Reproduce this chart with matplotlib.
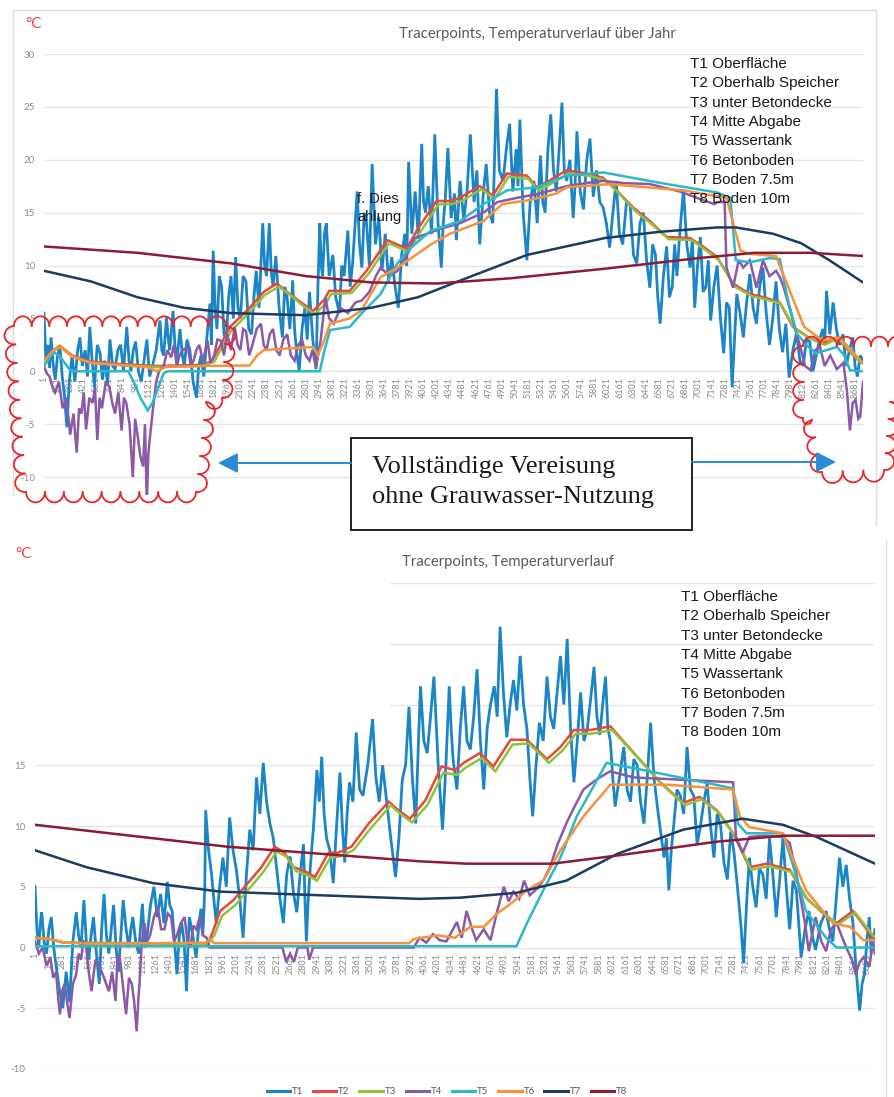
import numpy as np
import matplotlib
matplotlib.use('Agg')
from matplotlib import pyplot as plt
from matplotlib.patches import Rectangle
from matplotlib.lines import Line2D

# hours of the year (x) and temperatures in degC (y)
names = ['T1', 'T2', 'T3', 'T4', 'T5', 'T6', 'T7', 'T8']
legend_labels = ['T1 Oberfläche', 'T2 Oberhalb Speicher', 'T3 unter Betondecke',
                 'T4 Mitte Abgabe', 'T5 Wassertank', 'T6 Betonboden',
                 'T7 Boden 7.5m', 'T8 Boden 10m']
tick_hours = list(range(0, 8760, 140))
tick_labels = [str(h + 1) for h in tick_hours]

# ---- upper chart: "über Jahr" (with full icing)
top_t1_h = [0, 20, 40, 60, 75, 100, 120, 145, 170, 195, 220, 245, 270, 300, 330, 360, 385, 410, 440,
            465, 490, 515, 540, 570, 600, 625, 650, 680, 705, 735, 760, 790, 820, 850, 885, 910, 930,
            955, 980, 1010, 1040, 1070, 1100, 1130, 1160, 1200, 1240, 1260, 1280, 1310, 1330, 1345,
            1380, 1400, 1420, 1455, 1480, 1500, 1530, 1560, 1595, 1630, 1655, 1680, 1710, 1740, 1775,
            1790, 1810, 1830, 1850, 1875, 1900, 1925, 1950, 1975, 2000, 2025, 2050, 2075, 2100, 2130,
            2160, 2190, 2220, 2245, 2270, 2300, 2340, 2360, 2380, 2410, 2430, 2450, 2480, 2515, 2550,
            2575, 2600, 2630, 2660, 2680, 2700, 2730, 2760, 2790, 2815, 2840, 2875, 2910, 2930, 2950,
            2965, 2980, 3000, 3020, 3050, 3090, 3120, 3160, 3185, 3210, 3250, 3275, 3300, 3350, 3375,
            3400, 3425, 3450, 3480, 3510, 3545, 3580, 3615, 3650, 3685, 3720, 3755, 3790, 3825, 3860,
            3880, 3900, 3935, 3970, 4005, 4040, 4060, 4080, 4110, 4145, 4180, 4215, 4250, 4270, 4290,
            4320, 4355, 4390, 4410, 4450, 4490, 4525, 4560, 4600, 4630, 4660, 4700, 4730, 4765, 4800,
            4840, 4870, 4910, 4945, 4980, 5015, 5050, 5070, 5090, 5125, 5165, 5200, 5240, 5275, 5310,
            5335, 5360, 5390, 5420, 5450, 5480, 5510, 5540, 5565, 5590, 5625, 5660, 5680, 5700, 5735,
            5770, 5805, 5840, 5875, 5910, 5945, 5980, 6015, 6050, 6085, 6120, 6155, 6190, 6230, 6270,
            6305, 6340, 6375, 6410, 6445, 6480, 6510, 6540, 6565, 6590, 6625, 6660, 6690, 6720, 6745,
            6770, 6800, 6840, 6875, 6910, 6935, 6960, 6990, 7020, 7050, 7080, 7105, 7130, 7165, 7200,
            7235, 7270, 7300, 7330, 7360, 7385, 7410, 7445, 7480, 7515, 7550, 7585, 7620, 7655, 7690,
            7725, 7760, 7795, 7830, 7865, 7900, 7935, 7970, 8010, 8050, 8085, 8120, 8155, 8190, 8225,
            8260, 8295, 8330, 8350, 8370, 8405, 8440, 8475, 8510, 8545, 8580, 8615, 8650, 8675, 8700,
            8730, 8760]
top_t1 = [5.5, 1.0, 2.5, 0.3, 3.2, 0.5, -0.8, 1.5, 2.3, -0.5, -2.4, -5.3, -1.0, 1.5, -1.0, 2.0, 3.2,
          0.5, 2.0, -0.5, 4.2, 1.0, -1.5, 2.5, 1.7, -0.8, 1.0, -1.2, 3.0, 0.5, 0.2, 2.0, 2.5, 0.0,
          4.2, 1.0, 0.0, 2.0, 2.8, 0.0, -1.0, 1.0, 3.0, -0.5, 0.5, 2.0, 4.8, 2.0, 1.5, 5.1, 3.0, 2.0,
          5.7, 2.5, 1.0, 4.0, 1.5, 0.5, 3.0, 2.0, -1.0, -2.5, 0.5, 1.5, -0.5, 3.0, 6.4, 2.5, 11.4,
          6.0, 4.0, 9.0, 8.0, 3.5, 3.0, 7.0, 9.0, 5.0, 10.8, 6.0, 5.0, 9.0, 8.5, 4.0, 3.5, 7.0, 9.5,
          6.0, 14.0, 10.0, 9.0, 14.0, 9.5, 8.0, 10.9, 6.0, 3.2, 8.0, 7.0, 4.0, 8.6, 4.0, 2.0, 0.0,
          4.0, 6.0, 3.0, 7.5, 3.0, 0.2, 8.0, 14.0, 10.0, 9.0, 13.0, 14.0, 9.0, 11.0, 7.0, 5.5, 10.0,
          9.0, 13.3, 8.0, 10.1, 17.0, 12.0, 9.8, 15.0, 14.0, 10.0, 19.6, 12.0, 14.6, 9.5, 13.0, 8.5,
          10.8, 8.0, 6.0, 11.0, 13.0, 10.0, 19.8, 13.0, 17.0, 12.5, 21.5, 16.0, 15.0, 17.5, 13.0,
          22.4, 14.0, 9.8, 14.0, 16.0, 21.1, 14.5, 16.8, 12.4, 18.0, 14.3, 17.0, 22.4, 16.0, 19.0,
          12.0, 17.0, 19.6, 15.0, 14.0, 26.7, 19.0, 18.0, 21.0, 23.4, 17.0, 21.0, 17.5, 23.8, 15.0,
          10.5, 16.0, 18.0, 14.0, 20.4, 16.0, 15.0, 21.0, 24.3, 19.0, 17.0, 21.0, 25.4, 19.0, 18.0,
          20.0, 14.5, 17.5, 22.7, 17.0, 15.3, 20.0, 22.0, 16.5, 19.0, 16.0, 15.5, 14.0, 11.7, 15.0,
          18.0, 13.0, 12.0, 16.0, 15.7, 11.0, 10.2, 14.0, 15.0, 10.5, 7.9, 12.0, 11.0, 7.0, 4.5, 9.0,
          11.8, 7.0, 8.0, 12.0, 9.0, 13.0, 17.2, 12.0, 9.8, 12.5, 6.0, 10.0, 12.7, 7.5, 8.0, 10.5,
          4.8, 8.0, 10.0, 5.0, 1.7, 6.5, 6.0, -1.5, 3.0, 7.3, 5.5, 3.2, 6.5, 9.2, 6.0, 4.5, 8.0, 9.8,
          5.5, 2.5, 5.0, 8.5, 4.0, 1.8, 4.5, -0.6, 2.0, 3.6, 1.0, 0.5, 3.0, 2.8, 0.0, 1.5, 3.0, 4.0,
          2.5, 7.6, 3.5, 6.5, 4.0, 2.5, 3.5, 0.5, 2.0, 3.2, 0.5, -0.5, 1.5, 1.0]
top_t2_h = [0, 100, 170, 300, 500, 800, 1200, 1700, 1800, 1990, 2200, 2350, 2490, 2600, 2750, 2880,
            3000, 3050, 3270, 3450, 3670, 3880, 4000, 4200, 4340, 4450, 4560, 4660, 4800, 4950, 5165,
            5270, 5400, 5590, 5800, 5980, 6125, 6300, 6480, 6660, 6910, 7050, 7200, 7370, 7550, 7700,
            7870, 8010, 8180, 8330, 8480, 8600, 8730]
top_t2 = [1.0, 2.0, 2.4, 1.5, 0.9, 0.7, 0.5, 0.6, 1.0, 4.2, 6.0, 7.5, 8.3, 7.5, 6.5, 5.7, 6.8, 7.6,
          7.6, 9.5, 12.4, 11.6, 13.5, 16.1, 16.1, 16.4, 17.0, 17.5, 16.6, 18.7, 18.5, 17.4, 18.0,
          19.0, 18.7, 18.3, 17.1, 15.5, 14.2, 12.7, 12.6, 11.8, 10.8, 8.3, 7.3, 7.0, 6.5, 4.2, 3.2,
          2.6, 3.2, 2.0, 0.85]
top_t3_h = [0, 100, 180, 300, 500, 800, 1200, 1700, 1820, 2000, 2200, 2360, 2510, 2620, 2770, 2900,
            3020, 3070, 3290, 3470, 3690, 3900, 4020, 4220, 4360, 4470, 4580, 4680, 4820, 4970, 5180,
            5290, 5420, 5610, 5820, 6000, 6140, 6320, 6500, 6680, 6930, 7070, 7220, 7390, 7570, 7720,
            7880, 8030, 8200, 8350, 8500, 8620, 8740]
top_t3 = [0.9, 1.9, 2.3, 1.4, 0.8, 0.6, 0.4, 0.5, 0.9, 3.8, 5.6, 7.2, 8.0, 7.3, 6.2, 5.4, 6.5, 7.3,
          7.4, 9.2, 12.1, 11.3, 13.1, 15.8, 15.8, 16.1, 16.7, 17.2, 16.3, 18.4, 18.2, 17.1, 17.7,
          18.7, 18.5, 18.1, 16.9, 15.2, 13.9, 12.5, 12.4, 11.5, 10.5, 8.0, 7.1, 6.8, 6.4, 4.0, 3.1,
          2.5, 3.1, 1.9, 0.8]
top_t4_h = [0, 30, 60, 90, 120, 160, 200, 240, 280, 315, 350, 375, 400, 425, 450, 485, 520, 545, 570,
            595, 620, 660, 700, 730, 760, 795, 830, 855, 880, 915, 950, 975, 1000, 1030, 1060, 1080,
            1100, 1115, 1130, 1160, 1200, 1230, 1280, 1320, 1360, 1390, 1420, 1450, 1480, 1540, 1570,
            1600, 1630, 1660, 1700, 1750, 1780, 1820, 1855, 1890, 1925, 1960, 2000, 2040, 2070, 2100,
            2130, 2160, 2195, 2230, 2275, 2320, 2350, 2380, 2415, 2450, 2485, 2520, 2560, 2600, 2640,
            2680, 2720, 2760, 2800, 2840, 2870, 2910, 2960, 3010, 3050, 3100, 3170, 3250, 3330, 3400,
            3480, 3550, 3600, 3700, 3780, 3880, 3960, 4100, 4250, 4450, 4700, 4850, 5060, 5300, 5590,
            5800, 5980, 6200, 6480, 6800, 7170, 7200, 7280, 7300, 7370, 7430, 7480, 7550, 7620, 7690,
            7760, 7830, 7870, 7910, 7990, 8050, 8090, 8140, 8200, 8250, 8300, 8350, 8410, 8480, 8550,
            8590, 8620, 8650, 8680, 8710, 8730, 8760]
top_t4 = [0.5, -0.2, -0.5, -1.5, -2.0, -1.0, -3.5, -2.5, -6.0, -4.0, -7.7, -3.5, -4.0, -2.0, -5.5,
          -2.5, -3.0, -1.5, -6.5, -2.5, -3.5, -1.0, -1.5, -3.0, -4.0, -2.0, -5.6, -2.5, -3.0, -5.0,
          -10.0, -4.5, -6.0, -8.0, -9.0, -5.0, -12.5, -8.0, -6.5, -4.0, -1.0, 0.0, 0.5, 2.0, 1.3, 2.5,
          0.5, 1.5, 2.0, 2.3, 0.5, 1.0, 2.0, 2.5, 1.0, 2.9, 0.8, 1.5, 3.0, 2.9, 1.5, 3.5, 2.0, 4.2,
          2.5, 2.0, 4.0, 3.8, 1.5, 2.5, 4.0, 4.5, 2.5, 2.0, 3.5, 4.0, 2.0, 1.5, 3.0, 3.5, 1.5, 1.0,
          2.5, 3.0, 1.5, 1.0, 2.0, 0.4, 3.0, 7.0, 5.0, 4.5, 6.0, 5.5, 6.5, 6.7, 7.5, 9.0, 9.8, 9.0,
          9.5, 11.0, 12.6, 13.0, 13.5, 14.0, 15.0, 16.0, 16.4, 16.8, 17.5, 17.8, 18.0, 17.8, 17.7,
          17.0, 15.8, 16.0, 16.0, 9.8, 7.9, 10.5, 9.8, 10.5, 7.9, 10.5, 9.0, 9.5, 8.9, 8.0, 5.5, 3.5,
          2.3, 0.5, 0.1, 2.0, 2.3, 0.5, 1.5, 0.2, 0.8, -2.0, -5.6, -3.0, -2.7, -4.5, -4.3, -1.0]
top_t5_h = [0, 100, 160, 280, 350, 900, 960, 1030, 1110, 1160, 1210, 1280, 1320, 2950, 3000, 3060,
            3270, 3400, 3600, 3780, 3900, 4140, 4450, 4700, 4950, 5270, 5590, 5980, 6600, 7200, 7340,
            7400, 7550, 7760, 7870, 7950, 8050, 8150, 8260, 8370, 8480, 8560, 8620, 8760]
top_t5 = [0.5, 1.8, 1.5, 0.1, 0.0, 0.0, -1.0, -2.5, -3.7, -3.0, -1.8, -0.2, 0.0, 0.0, 2.0, 3.9, 4.2,
          5.5, 7.3, 10.2, 11.5, 13.3, 14.2, 15.8, 17.1, 17.4, 18.5, 18.8, 17.8, 16.9, 16.4, 10.5,
          10.3, 10.7, 10.6, 7.0, 3.6, 2.5, 1.7, 2.0, 2.3, 1.5, 0.1, 0.0]
top_t6_h = [0, 100, 170, 300, 500, 800, 1100, 1210, 1300, 1700, 2200, 2280, 2350, 2500, 2700, 2880,
            2930, 3000, 3060, 3270, 3400, 3600, 3780, 4140, 4340, 4700, 4900, 5200, 5480, 5590, 6050,
            6840, 7300, 7450, 7550, 7830, 7990, 8130, 8330, 8510, 8760]
top_t6 = [1.0, 2.0, 2.3, 1.4, 0.8, 0.6, 0.4, 0.0, 0.4, 0.5, 0.55, 1.5, 2.0, 2.1, 2.2, 2.3, 1.5, 3.0,
          4.5, 5.0, 5.8, 8.9, 9.8, 12.0, 13.0, 14.2, 15.8, 16.2, 16.8, 17.4, 17.7, 17.1, 16.4, 11.4,
          11.1, 10.9, 7.3, 4.2, 2.9, 3.2, 0.75]
top_t7_h = [0, 500, 1000, 1500, 2000, 2800, 3500, 4000, 4400, 5165, 6000, 6600, 7200, 7400, 7800,
            8100, 8400, 8760]
top_t7 = [9.5, 8.5, 7.0, 6.0, 5.5, 5.3, 6.0, 7.0, 8.4, 11.0, 12.6, 13.2, 13.6, 13.6, 13.0, 12.1,
          10.5, 8.4]
top_t8_h = [0, 1000, 2000, 2800, 3500, 4200, 5000, 6000, 7000, 7600, 8200, 8760]
top_t8 = [11.8, 11.2, 10.2, 9.0, 8.4, 8.3, 8.8, 9.7, 10.7, 11.2, 11.2, 10.9]

# ---- lower chart: with grey water use
bot_t1_h = [0, 20, 40, 55, 70, 95, 120, 145, 170, 195, 220, 255, 290, 325, 360, 395, 430, 455, 480,
            510, 535, 560, 585, 610, 640, 670, 695, 720, 745, 770, 795, 820, 845, 870, 895, 920, 950,
            980, 1000, 1020, 1050, 1080, 1100, 1120, 1145, 1170, 1205, 1240, 1275, 1310, 1345, 1380,
            1405, 1430, 1455, 1480, 1505, 1530, 1555, 1580, 1595, 1610, 1645, 1680, 1705, 1730, 1750,
            1770, 1780, 1810, 1840, 1865, 1890, 1925, 1960, 1995, 2030, 2065, 2100, 2135, 2170, 2205,
            2240, 2275, 2310, 2345, 2380, 2415, 2450, 2485, 2520, 2555, 2590, 2625, 2660, 2695, 2730,
            2765, 2800, 2815, 2830, 2850, 2870, 2905, 2940, 2965, 2990, 3015, 3040, 3075, 3110, 3145,
            3180, 3205, 3230, 3255, 3280, 3315, 3350, 3385, 3420, 3470, 3520, 3555, 3590, 3625, 3660,
            3710, 3760, 3795, 3830, 3865, 3900, 3935, 3970, 3995, 4020, 4055, 4090, 4125, 4160, 4205,
            4250, 4285, 4320, 4340, 4360, 4400, 4435, 4470, 4505, 4540, 4575, 4610, 4645, 4680, 4715,
            4750, 4790, 4820, 4850, 4885, 4920, 4955, 4990, 5025, 5060, 5095, 5130, 5160, 5190, 5225,
            5260, 5300, 5340, 5375, 5410, 5445, 5480, 5515, 5550, 5585, 5620, 5655, 5690, 5725, 5760,
            5795, 5830, 5860, 5890, 5920, 5950, 5975, 6000, 6025, 6050, 6095, 6140, 6175, 6210, 6245,
            6280, 6315, 6350, 6385, 6420, 6455, 6490, 6525, 6560, 6585, 6610, 6635, 6660, 6695, 6730,
            6765, 6800, 6835, 6870, 6905, 6940, 6975, 7010, 7045, 7080, 7115, 7150, 7185, 7220, 7255,
            7290, 7325, 7360, 7390, 7420, 7450, 7485, 7520, 7555, 7590, 7625, 7660, 7695, 7730, 7765,
            7800, 7835, 7870, 7905, 7940, 7965, 7990, 8030, 8070, 8105, 8140, 8195, 8250, 8285, 8320,
            8355, 8390, 8425, 8460, 8495, 8530, 8565, 8600, 8625, 8650, 8675, 8700, 8720, 8740, 8760]
bot_t1 = [5.0, 1.5, 0.0, 2.0, 2.9, 0.5, -0.5, 1.5, 2.5, 0.0, -1.5, -3.5, -5.0, -2.0, -4.5, 0.5, 2.9,
          1.0, 0.0, 3.9, 0.5, -1.0, 1.0, 2.5, -0.5, -3.0, 1.5, 4.4, 1.0, -0.5, 1.5, 3.5, 0.0, -2.0,
          1.0, 3.9, 1.5, 0.0, 1.5, 2.5, 0.5, -0.5, 1.5, 3.6, 0.0, 1.0, 3.5, 5.0, 2.5, 4.4, 2.0, 5.4,
          3.5, 3.0, 0.5, -2.2, 1.0, 2.0, 0.5, -3.6, 0.0, 2.5, 1.0, -0.8, 1.5, 3.2, 1.0, 4.7, 11.3,
          8.0, 6.1, 4.0, 2.0, 5.0, 7.4, 5.0, 10.7, 8.0, 6.4, 4.0, 0.8, 6.0, 9.7, 8.0, 14.0, 11.0,
          15.2, 12.0, 10.2, 9.0, 6.5, 4.0, 2.0, 6.0, 7.5, 4.5, 2.9, 6.0, 8.5, 4.0, 0.5, 4.0, 6.5,
          10.0, 14.6, 12.0, 15.7, 11.0, 9.0, 8.0, 5.3, 10.0, 14.4, 10.0, 7.0, 11.0, 13.6, 12.0, 17.7,
          13.0, 12.5, 15.0, 18.8, 14.0, 12.0, 15.0, 12.5, 9.0, 5.8, 9.0, 13.8, 15.0, 19.8, 14.0,
          10.2, 16.0, 21.5, 17.0, 16.0, 19.0, 22.3, 15.0, 9.7, 15.0, 21.5, 18.0, 15.5, 13.0, 18.0,
          21.5, 17.0, 16.3, 19.0, 22.9, 17.0, 13.0, 18.0, 20.0, 21.5, 19.0, 26.4, 21.0, 17.3, 20.0,
          22.0, 19.5, 24.0, 20.0, 18.0, 14.0, 10.8, 15.0, 18.5, 17.0, 22.3, 19.0, 18.0, 21.0, 24.0,
          20.0, 25.4, 18.0, 13.6, 17.0, 21.0, 17.0, 18.0, 20.5, 23.1, 19.0, 17.5, 20.0, 22.3, 18.0,
          17.0, 14.0, 11.6, 14.0, 16.5, 13.0, 12.0, 15.5, 15.0, 12.0, 10.2, 14.0, 18.5, 14.0, 11.6,
          9.5, 7.4, 9.0, 4.7, 8.0, 10.0, 13.0, 12.5, 11.0, 16.5, 13.0, 12.5, 8.5, 10.0, 12.0, 13.5,
          10.0, 7.4, 11.0, 10.0, 7.0, 5.6, 9.5, 7.8, 5.0, 2.0, -1.3, 3.5, 7.4, 5.0, 3.3, 6.5, 6.0,
          4.0, 9.0, 6.0, 2.5, 5.5, 9.0, 5.0, 1.5, 5.5, 4.7, 2.0, -0.8, 1.5, 3.0, 1.0, -0.2, 2.0, 3.0,
          1.5, 0.5, 4.0, 7.4, 5.0, 6.8, 4.0, 2.0, -2.0, -5.2, -3.0, -2.2, 0.5, 2.5, -0.5, 0.5, 1.5]
bot_t2_h = [0, 150, 300, 1800, 1850, 1930, 2070, 2220, 2360, 2500, 2600, 2700, 2810, 2920, 3060,
            3160, 3300, 3480, 3690, 3790, 3910, 4070, 4240, 4380, 4470, 4640, 4780, 4960, 5130, 5340,
            5480, 5620, 5790, 6000, 6280, 6520, 6760, 6930, 7110, 7280, 7450, 7630, 7870, 8040, 8220,
            8360, 8530, 8740]
bot_t2 = [0.8, 0.7, 0.4, 0.3, 1.2, 3.0, 3.9, 5.3, 6.6, 8.3, 7.8, 6.6, 6.3, 5.8, 7.8, 7.8, 8.3, 10.2,
          12.0, 11.3, 10.6, 12.1, 14.9, 14.6, 15.2, 16.0, 14.9, 17.1, 17.1, 15.5, 16.5, 17.9, 17.9,
          18.2, 15.7, 13.6, 11.9, 12.4, 11.3, 9.4, 6.6, 6.9, 6.4, 4.1, 2.8, 2.0, 3.0, 0.8]
bot_t3_h = [0, 150, 300, 1800, 1870, 1950, 2090, 2240, 2380, 2520, 2620, 2720, 2830, 2940, 3080,
            3180, 3320, 3500, 3710, 3810, 3930, 4090, 4260, 4400, 4490, 4660, 4800, 4980, 5150, 5360,
            5500, 5640, 5810, 6020, 6300, 6540, 6780, 6950, 7130, 7300, 7470, 7650, 7890, 8060, 8240,
            8380, 8550, 8750]
bot_t3 = [0.8, 0.7, 0.4, 0.3, 1.0, 2.6, 3.5, 4.9, 6.2, 7.9, 7.5, 6.3, 6.0, 5.5, 7.4, 7.5, 8.0, 9.8,
          11.7, 11.0, 10.3, 11.7, 14.4, 14.2, 14.8, 15.6, 14.5, 16.7, 16.8, 15.2, 16.2, 17.6, 17.6,
          17.9, 15.5, 13.4, 11.7, 12.2, 11.1, 9.2, 6.4, 6.7, 6.2, 3.9, 2.7, 1.9, 2.9, 0.9]
bot_t4_h = [0, 40, 80, 120, 160, 190, 220, 240, 260, 285, 310, 335, 360, 395, 430, 455, 480, 505, 530,
            560, 590, 630, 670, 720, 770, 805, 840, 860, 880, 915, 950, 980, 1010, 1035, 1060, 1080,
            1090, 1110, 1140, 1170, 1200, 1240, 1280, 1315, 1350, 1385, 1420, 1450, 1480, 1520, 1560,
            1590, 1620, 1650, 1680, 1720, 1750, 1790, 1821, 2580, 2620, 2660, 2700, 2740, 2840, 2860,
            2900, 3950, 4010, 4080, 4150, 4220, 4290, 4400, 4450, 4500, 4560, 4600, 4680, 4750, 4820,
            4890, 4940, 4990, 5050, 5100, 5160, 5230, 5300, 5370, 5450, 5540, 5620, 5720, 5800, 5890,
            6000, 6240, 6760, 7280, 7310, 7380, 7450, 7600, 7800, 7870, 7930, 7970, 8030, 8070, 8140,
            8200, 8250, 8300, 8360, 8460, 8520, 8560, 8600, 8640, 8700, 8740, 8760]
bot_t4 = [0.5, -0.5, 0.0, -1.5, -0.8, -2.5, -2.0, -4.0, -5.5, -3.5, -3.0, -4.5, -5.8, -3.0, -2.2,
          -0.5, -1.0, 0.5, 0.3, -2.0, -3.6, -1.0, -1.5, -2.5, -3.6, -2.0, -4.4, -1.0, -0.5, -3.0,
          -5.5, -2.5, -3.0, -4.5, -6.9, -4.0, -3.0, 0.0, 2.0, 0.5, 1.0, 2.5, 3.3, 1.5, 1.5, 2.8, 2.5,
          0.5, 1.0, 2.0, 2.5, 0.5, 0.0, 1.8, 1.5, 2.5, 1.0, 0.8, 0.0, 0.0, -1.2, -0.5, -1.2, 0.0, 0.0,
          -1.0, 0.0, 0.0, 0.8, 0.4, 1.1, 0.6, 0.5, 2.1, 0.8, 3.0, 1.5, 0.6, 1.5, 0.6, 3.0, 5.0, 3.8,
          4.6, 4.0, 5.5, 4.3, 4.8, 5.5, 6.6, 8.5, 10.2, 11.5, 13.0, 13.5, 14.0, 14.5, 14.0, 13.8,
          13.6, 9.1, 7.8, 9.1, 9.2, 9.1, 8.6, 6.5, 4.7, 2.0, -0.3, 2.5, 0.5, -0.3, 1.5, 2.0, 0.0,
          -1.0, -2.2, -1.2, -0.8, -1.6, 0.5, -0.5]
bot_t5_h = [0, 5020, 5130, 5300, 5480, 5650, 5820, 5960, 6410, 7280, 7330, 7420, 7800, 7900, 8040,
            8250, 8360, 8760]
bot_t5 = [0.1, 0.1, 2.0, 4.7, 7.4, 10.8, 13.2, 15.2, 14.5, 13.1, 10.2, 9.4, 9.4, 6.9, 3.0, 0.8,
          0.0, 0.0]
bot_t6_h = [0, 150, 300, 600, 1790, 1821, 1870, 3900, 3950, 4200, 4380, 4450, 4540, 4680, 4820,
            4960, 5130, 5300, 5480, 5720, 6000, 6590, 7280, 7350, 7450, 7800, 7900, 8040, 8320, 8500,
            8640, 8760]
bot_t6 = [0.8, 0.7, 0.4, 0.3, 0.4, 0.7, 0.35, 0.35, 0.7, 1.0, 0.8, 1.2, 1.7, 1.7, 2.8, 3.6, 4.7,
          5.5, 8.0, 10.8, 13.4, 13.4, 13.0, 10.8, 9.9, 9.4, 7.4, 4.7, 2.0, 1.7, 0.6, 0.6]
bot_t7_h = [0, 540, 1230, 1930, 2970, 4010, 4430, 5020, 5540, 6070, 6760, 7380, 7800, 8150, 8760]
bot_t7 = [8.0, 6.6, 5.3, 4.6, 4.3, 4.0, 4.1, 4.5, 5.5, 7.7, 9.7, 10.6, 10.1, 9.1, 6.9]
bot_t8_h = [0, 1000, 2000, 3000, 4000, 4500, 5400, 6100, 7100, 7800, 8760]
bot_t8 = [10.1, 9.2, 8.3, 7.7, 7.1, 6.9, 6.9, 7.6, 8.7, 9.2, 9.2]

COLORS = ['#1b85c6', '#e8473c', '#94c13d', '#8a5aa8', '#2ab8cc', '#f7923a', '#1c3b63', '#8c1c34']
GRID = '#e6e6e6'
TICK = '#8c8c8c'
TITLE = '#595959'
W, H = 895, 1097


def make_axes(fig, left, right, top, bottom, ymin, ymax):
    ax = fig.add_axes([left / W, 1 - bottom / H, (right - left) / W, (bottom - top) / H])
    ax.set_xlim(0, 8760)
    ax.set_ylim(ymin, ymax)
    for s in ['top', 'right', 'left']:
        ax.spines[s].set_visible(False)
    ax.spines['bottom'].set_position(('data', 0))
    ax.spines['bottom'].set_color('none')
    ax.set_axisbelow(True)
    ax.set_xticks(tick_hours)
    ax.set_xticklabels(tick_labels, rotation=90, fontsize=6.5, color=TICK, family=['Lato', 'DejaVu Sans'])
    ax.tick_params(axis='x', length=0, pad=4)
    return ax


def draw_lines(ax, series):
    for i, (h, v) in enumerate(series):
        lw = 2.0 if i == 0 else 1.8
        ax.plot(h, v, color=COLORS[i], lw=lw, solid_joinstyle='miter')


def cloud(ax, pts, r=9, **kw):
    pts = np.array(pts + [pts[0]], dtype=float)
    cen = pts[:-1].mean(axis=0)
    for p, q in zip(pts[:-1], pts[1:]):
        length = np.hypot(*(q - p))
        n = max(1, int(round(length / (2 * r))))
        d = (q - p) / length
        nrm = np.array([-d[1], d[0]])
        if np.dot(nrm, (p + q) / 2 - cen) < 0:
            nrm = -nrm
        seg = length / n
        t = np.linspace(np.pi, 0, 16)
        for k in range(n):
            c = p + d * seg * (k + 0.5)
            xs = c[0] + seg / 2 * (np.cos(t) * d[0] + np.sin(t) * nrm[0] * 1.1)
            ys = c[1] + seg / 2 * (np.cos(t) * d[1] + np.sin(t) * nrm[1] * 1.1)
            ax.plot(xs, ys, **kw)


def main():
    fig = plt.figure(figsize=(W / 100, H / 100), dpi=100)
    fig.patch.set_facecolor('white')
    sans = ['Lato', 'DejaVu Sans']

    # upper chart
    ax1 = make_axes(fig, 44, 863, 54, 495, -11.7, 30)
    ax1.hlines(range(-10, 31, 5), 0, 8760, color=GRID, lw=1, zorder=0)
    ax1.set_yticks(range(-10, 31, 5))
    ax1.set_yticklabels([str(v) for v in range(-10, 31, 5)], fontsize=7, color=TICK, family=sans)
    ax1.tick_params(axis='y', length=0, pad=6.5)
    draw_lines(ax1, [(top_t1_h, top_t1), (top_t2_h, top_t2), (top_t3_h, top_t3), (top_t4_h, top_t4),
                     (top_t5_h, top_t5), (top_t6_h, top_t6), (top_t7_h, top_t7), (top_t8_h, top_t8)])

    # lower chart
    ax2 = make_axes(fig, 35, 875, 583, 1069, -10, 30)
    ax2.hlines(range(-10, 16, 5), 0, 8760, color=GRID, lw=1, zorder=0)
    ax2.hlines([20, 25, 30], 3700, 8760, color=GRID, lw=1, zorder=0)
    ax2.set_yticks(range(-10, 16, 5))
    ax2.set_yticklabels([str(v) for v in range(-10, 16, 5)], fontsize=7, color=TICK, family=sans)
    ax2.tick_params(axis='y', length=0, pad=7)
    draw_lines(ax2, [(bot_t1_h, bot_t1), (bot_t2_h, bot_t2), (bot_t3_h, bot_t3),
                     (bot_t4_h, bot_t4), (bot_t5_h, bot_t5), (bot_t6_h, bot_t6),
                     (bot_t7_h, bot_t7), (bot_t8_h, bot_t8)])
    handles = [Line2D([], [], color=COLORS[i], lw=2.2) for i in range(8)]
    fig.legend(handles, names, loc='center', bbox_to_anchor=(447 / W, 1 - 1092 / H), ncol=8,
               frameon=False, prop={'family': sans, 'size': 7}, labelcolor=TITLE,
               handlelength=2.4, handletextpad=0.2, columnspacing=1.0)

    # overlay in pixel coordinates for titles, notes, clouds and the box
    ov = fig.add_axes([0, 0, 1, 1], zorder=10)
    ov.set_xlim(0, W)
    ov.set_ylim(H, 0)
    ov.axis('off')

    ov.plot([13, 13, 876, 876], [495, 10, 10, 525], color='#dcdcdc', lw=1)
    ov.plot([886, 886], [540, H], color='#e2e2e2', lw=1)

    ov.text(25, 24, '°C', color='#ec3d4c', fontsize=11, family=sans, va='center')
    ov.text(15, 554, '°C', color='#ec3d4c', fontsize=11, family=sans, va='center')
    ov.text(537, 34, 'Tracerpoints, Temperaturverlauf über Jahr', color=TITLE, fontsize=10.7,
            family=sans, ha='center', va='center')
    ov.text(508, 562, 'Tracerpoints, Temperaturverlauf', color=TITLE, fontsize=10.7,
            family=sans, ha='center', va='center')

    arial = ['Liberation Sans', 'DejaVu Sans']
    for i, lab in enumerate(legend_labels):
        ov.text(690, 68 + i * 19.33, lab, fontsize=11, family=arial, color='#1a1a1a', va='baseline')
        ov.text(681, 601 + i * 19.33, lab, fontsize=11, family=arial, color='#1a1a1a', va='baseline')
    ov.text(357, 203, 'f. Dies', fontsize=10.5, family=arial, color='#1a1a1a', va='baseline')
    ov.text(357, 221, 'ahlung', fontsize=10.5, family=arial, color='#1a1a1a', va='baseline')

    red = dict(color='#e8252a', lw=1.3, solid_capstyle='round')
    cloud(ov, [(14, 326), (226, 326), (222, 398), (206, 402), (196, 492), (26, 492)], r=9, **red)
    cloud(ov, [(803, 346), (905, 346), (890, 402), (884, 470), (822, 472), (812, 420), (803, 418)],
          r=9, **red)

    ov.add_patch(Rectangle((351, 438), 341, 92, facecolor='white', edgecolor='#222222', lw=1.4))
    serif = ['Liberation Serif', 'DejaVu Serif']
    ov.text(372, 473, 'Vollständige Vereisung', fontsize=19, family=serif, color='#1a1a1a',
            va='baseline')
    ov.text(372, 503, 'ohne Grauwasser-Nutzung', fontsize=19, family=serif, color='#1a1a1a',
            va='baseline')
    arrow = dict(arrowstyle='-|>,head_length=0.55,head_width=0.28', color='#2a8ad4', lw=1.4,
                 mutation_scale=22, shrinkA=0, shrinkB=0)
    ov.annotate('', xy=(218, 463), xytext=(351, 463), arrowprops=arrow)
    ov.annotate('', xy=(836, 462), xytext=(692, 462), arrowprops=arrow)

    fig.savefig('out.png', dpi=100)


main()
